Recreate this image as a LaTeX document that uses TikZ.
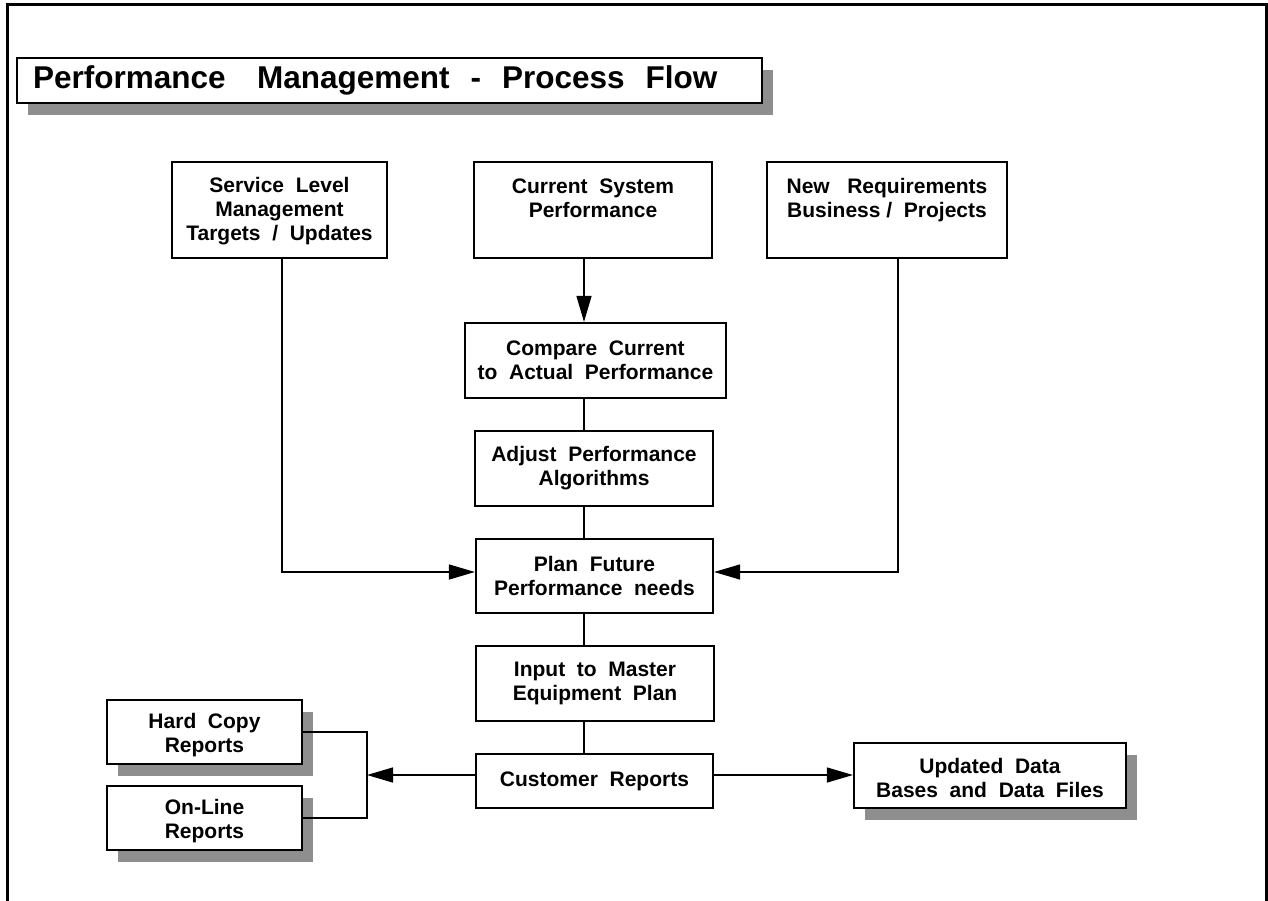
\documentclass[tikz,border=0pt]{standalone}
\usepackage{fontspec}
\setmainfont{Liberation Sans}
\usetikzlibrary{arrows.meta,shadows}
\definecolor{shadowgray}{RGB}{142,142,142}
\begin{document}
\begin{tikzpicture}[x=1pt,y=-1pt,
  box/.style={draw,line width=2.2pt,fill=white,align=center,inner sep=0pt,
    font=\bfseries\fontsize{21}{24}\selectfont},
  shadowed/.style={drop shadow={shadow xshift=11pt,shadow yshift=-12pt,opacity=1,fill=shadowgray}},
  link/.style={line width=1.3pt},
  arrow/.style={link,-{Triangle[length=26pt,width=15pt]}}]
\useasboundingbox (0,0) rectangle (1268,901);
\fill[white] (0,0) rectangle (1268,901);

% page frame, open at the bottom
\draw[line width=3pt] (7,901) -- (7,5) -- (1266.5,5) -- (1266.5,901);

% heading
\node[box,shadowed,font=\bfseries\fontsize{31.5}{36}\selectfont,
  text width=713pt,align=left,inner xsep=16pt,minimum height=45pt]
  (title) at (389.5,80.5) {Performance~~ Management~ -~ Process~ Flow};

% inputs
\node[box,minimum width=215pt,minimum height=96pt] (slm) at (279.5,210)
  {\rule{0pt}{18pt}Service~ Level\\Management\\Targets~ /~ Updates};
\node[box,minimum width=238pt,minimum height=96pt] (csp) at (593,210)
  {Current~ System\\Performance\\~};
\node[box,minimum width=240pt,minimum height=96pt] (nr) at (887,210)
  {New~ ~Requirements\\Business /~ Projects\\~};

% main chain
\node[box,minimum width=261pt,minimum height=75pt] (cmp) at (595.5,360.5)
  {Compare~ Current\\to~ Actual~ Performance};
\node[box,minimum width=238pt,minimum height=75pt] (adj) at (594,468.5)
  {Adjust~ Performance\\Algorithms};
\node[box,minimum width=237pt,minimum height=74pt] (plan) at (594.5,576)
  {Plan~ Future\\Performance~ needs};
\node[box,minimum width=238pt,minimum height=75pt] (inp) at (595,683.5)
  {Input~ to~ Master\\Equipment~ Plan};
\node[box,minimum width=237pt,minimum height=54pt] (cust) at (594.5,781)
  {Customer~ Reports};

% outputs
\node[box,shadowed,minimum width=195pt,minimum height=64pt] (hc) at (204.5,732)
  {\rule{0pt}{22pt}Hard~ Copy\\Reports};
\node[box,shadowed,minimum width=195pt,minimum height=64pt] (ol) at (204.5,818)
  {\rule{0pt}{22pt}On-Line\\Reports};
\node[box,shadowed,minimum width=272pt,minimum height=65pt] (upd) at (990,775.5)
  {\rule{0pt}{20pt}Updated~ Data\\Bases~ and~ Data~ Files};

% routing points
\coordinate (spine) at (584,0);
\coordinate (leftdrop) at (282,572);
\coordinate (rightdrop) at (898,572);
\coordinate (split) at (367,775);

% connectors
\draw[arrow] (csp.south -| spine) -- (cmp.north -| spine);
\draw[link] (cmp.south -| spine) -- (adj.north -| spine);
\draw[link] (adj.south -| spine) -- (plan.north -| spine);
\draw[link] (plan.south -| spine) -- (inp.north -| spine);
\draw[link] (inp.south -| spine) -- (cust.north -| spine);

\draw[arrow] (slm.south -| leftdrop) -- (leftdrop) -- (plan.west |- leftdrop);
\draw[arrow] (nr.south -| rightdrop) -- (rightdrop) -- (plan.east |- rightdrop);

\draw[arrow] (cust.west |- split) -- (split);
\draw[link] (hc.east) -- (hc.east -| split) -- (ol.east -| split) -- (ol.east);
\draw[arrow] (cust.east |- split) -- (upd.west |- split);
\end{tikzpicture}
\end{document}
